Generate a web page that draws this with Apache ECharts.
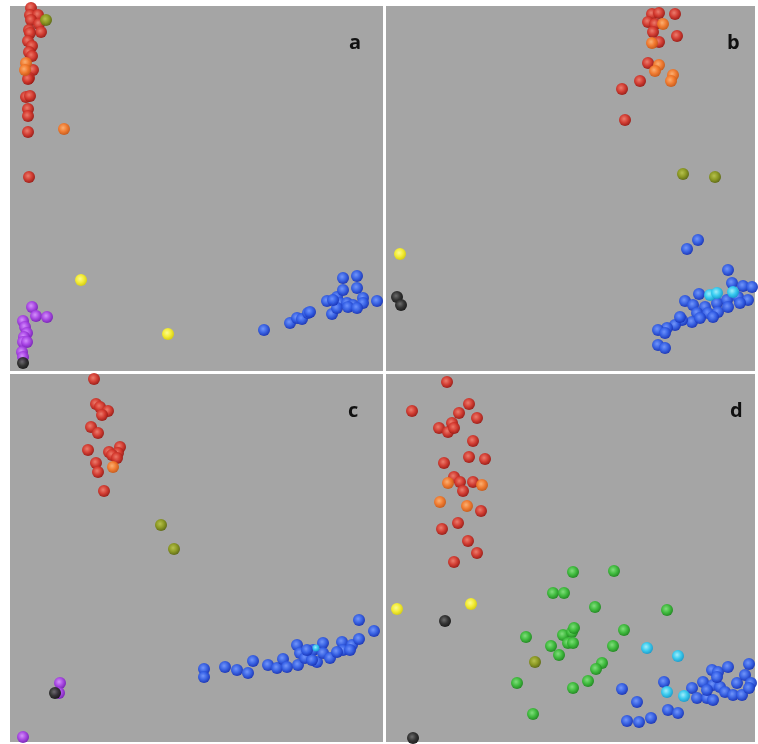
<!DOCTYPE html>
<html>
<head>
<meta charset="utf-8">
<script src="https://cdn.jsdelivr.net/npm/echarts@6/dist/echarts.min.js"></script>
<style>
html,body{margin:0;padding:0;background:#ffffff;}
#chart{width:758px;height:744px;}
</style>
</head>
<body>
<div id="chart"></div>
<script>
var panelLabels = ['a', 'b', 'c', 'd'];

// ---- panel a ----
var aRed = [[21,2],[20,9],[28,9],[21,14],[29,18],[19,24],[31,26],[20,27],[18,35],[22,40],[19,46],[22,50],[23,64],[19,72],[18,73],[16,91],[20,90],[18,103],[18,110],[18,126],[19,171]];
var aOrange = [[16,57],[15,64],[54,123]];
var aOlive = [[36,14]];
var aYellow = [[71,274],[158,328]];
var aPurple = [[22,301],[26,310],[37,311],[13,315],[15,321],[17,327],[14,331],[13,336],[17,336],[12,346],[13,351]];
var aBlack = [[13,357]];
var aBlue = [[254,324],[280,317],[287,312],[292,313],[298,307],[300,306],[322,308],[317,295],[327,291],[333,272],[347,270],[333,284],[347,282],[330,297],[337,297],[343,299],[353,292],[353,297],[367,295],[327,302],[338,301],[347,302],[323,294]];

// ---- panel b ----
var bRed = [[266,8],[273,7],[289,8],[262,16],[269,18],[267,26],[291,30],[273,36],[262,57],[254,75],[236,83],[239,114]];
var bOrange = [[277,18],[266,37],[273,59],[269,65],[287,69],[285,75]];
var bOlive = [[297,168],[329,171]];
var bYellow = [[14,248]];
var bBlack = [[11,291],[15,299]];
var bBlue = [[301,243],[312,234],[342,264],[346,277],[357,280],[366,281],[313,288],[299,295],[307,299],[319,301],[331,297],[341,294],[352,291],[362,294],[311,307],[322,307],[332,306],[342,301],[354,297],[306,316],[296,314],[289,319],[281,322],[272,324],[279,327],[272,339],[279,342],[294,311],[314,312],[327,311]];
var bCyan = [[324,289],[331,287],[347,286]];

// ---- panel c ----
var cRed = [[84,5],[86,30],[90,33],[98,37],[92,41],[81,53],[88,59],[78,76],[99,78],[110,73],[108,79],[102,81],[107,84],[86,89],[88,98],[94,117]];
var cOrange = [[103,93]];
var cOlive = [[151,151],[164,175]];
var cPurple = [[50,309],[49,319],[13,363]];
var cBlack = [[45,319]];
var cBlue = [[194,295],[194,303],[215,293],[227,296],[238,299],[243,287],[258,291],[267,294],[273,285],[277,293],[288,291],[287,271],[290,279],[295,284],[303,276],[307,288],[313,269],[313,279],[320,284],[332,268],[333,276],[342,271],[349,265],[349,246],[364,257],[327,278],[302,286],[297,276],[340,276]];
var cCyan = [[306,274]];

// ---- panel d ----
var dRed = [[61,8],[26,37],[83,30],[73,39],[91,44],[53,54],[62,58],[66,49],[68,54],[87,67],[58,89],[83,83],[99,85],[68,103],[74,108],[77,117],[87,108],[95,137],[56,155],[72,149],[82,167],[91,179],[68,188]];
var dOrange = [[62,109],[96,111],[54,128],[81,132]];
var dYellow = [[11,235],[85,230]];
var dBlack = [[59,247],[27,364]];
var dOlive = [[149,288]];
var dGreen = [[187,198],[228,197],[167,219],[178,219],[209,233],[281,236],[238,256],[140,263],[165,272],[173,281],[177,261],[186,258],[188,254],[182,269],[187,269],[227,272],[216,289],[210,295],[131,309],[187,314],[202,307],[147,340]];
var dBlue = [[236,315],[251,328],[241,347],[253,348],[265,344],[278,308],[282,336],[292,339],[306,314],[311,324],[317,308],[321,324],[326,296],[327,311],[332,298],[334,313],[342,293],[339,318],[327,326],[347,321],[351,309],[356,321],[359,301],[363,290],[365,309],[363,314],[321,316],[331,303]];
var dCyan = [[261,274],[292,282],[281,318],[298,322]];

// ---- styling ----
var palette = {
  red:    ['#ef7a6a', '#d5392e', '#9c1a14'],
  orange: ['#ffb070', '#f47a2c', '#c95a18'],
  olive:  ['#b7c24a', '#8c9a1e', '#5e6a12'],
  yellow: ['#ffff90', '#f8f030', '#d8d010'],
  purple: ['#d690ff', '#a945e6', '#7a22b8'],
  black:  ['#6a6a6a', '#303030', '#151515'],
  blue:   ['#6f95ff', '#3560e6', '#1834b8'],
  cyan:   ['#a0f0ff', '#35cdf2', '#1a9ccc'],
  green:  ['#7fe07a', '#3cbd3a', '#1f8a1f']
};
function grad(name) {
  var c = palette[name];
  return {
    type: 'radial', x: 0.42, y: 0.4, r: 0.6,
    colorStops: [
      {offset: 0, color: c[0]},
      {offset: 0.55, color: c[1]},
      {offset: 1, color: c[2]}
    ]
  };
}

var panels = [
  {left: 10, top: 6, width: 373, height: 365, labelDx: 339, sets: [['red', aRed], ['orange', aOrange], ['olive', aOlive], ['yellow', aYellow], ['purple', aPurple], ['black', aBlack], ['blue', aBlue]]},
  {left: 386, top: 6, width: 369, height: 365, labelDx: 341, sets: [['red', bRed], ['orange', bOrange], ['olive', bOlive], ['yellow', bYellow], ['black', bBlack], ['blue', bBlue], ['cyan', bCyan]]},
  {left: 10, top: 374, width: 373, height: 368, labelDx: 338, sets: [['red', cRed], ['orange', cOrange], ['olive', cOlive], ['purple', cPurple], ['black', cBlack], ['blue', cBlue], ['cyan', cCyan]]},
  {left: 386, top: 374, width: 369, height: 368, labelDx: 344, sets: [['red', dRed], ['orange', dOrange], ['yellow', dYellow], ['black', dBlack], ['green', dGreen], ['olive', dOlive], ['blue', dBlue], ['cyan', dCyan]]}
];

var grids = [], xAxes = [], yAxes = [], series = [], graphics = [];
panels.forEach(function (p, i) {
  grids.push({left: p.left, top: p.top, width: p.width, height: p.height, show: true, backgroundColor: '#a5a5a5', borderWidth: 0});
  xAxes.push({gridIndex: i, type: 'value', min: 0, max: p.width, show: false});
  yAxes.push({gridIndex: i, type: 'value', min: 0, max: p.height, inverse: true, show: false});
  p.sets.forEach(function (s) {
    series.push({
      type: 'scatter', xAxisIndex: i, yAxisIndex: i,
      data: s[1], symbol: 'circle', symbolSize: s[0] === 'cyan' && i === 2 ? 7 : 12,
      clip: true, silent: true, animation: false,
      itemStyle: {color: grad(s[0]), opacity: 0.95}
    });
  });
  graphics.push({
    type: 'text', left: p.left + p.labelDx, top: p.top + 27,
    style: {text: panelLabels[i], font: 'bold 20px "Open Sans", "Liberation Sans", sans-serif', fill: '#111111'}
  });
});

var chart = echarts.init(document.getElementById('chart'), null, {renderer: 'canvas'});
chart.setOption({
  backgroundColor: '#ffffff',
  animation: false,
  grid: grids, xAxis: xAxes, yAxis: yAxes, series: series, graphic: graphics
});
</script>
</body>
</html>
